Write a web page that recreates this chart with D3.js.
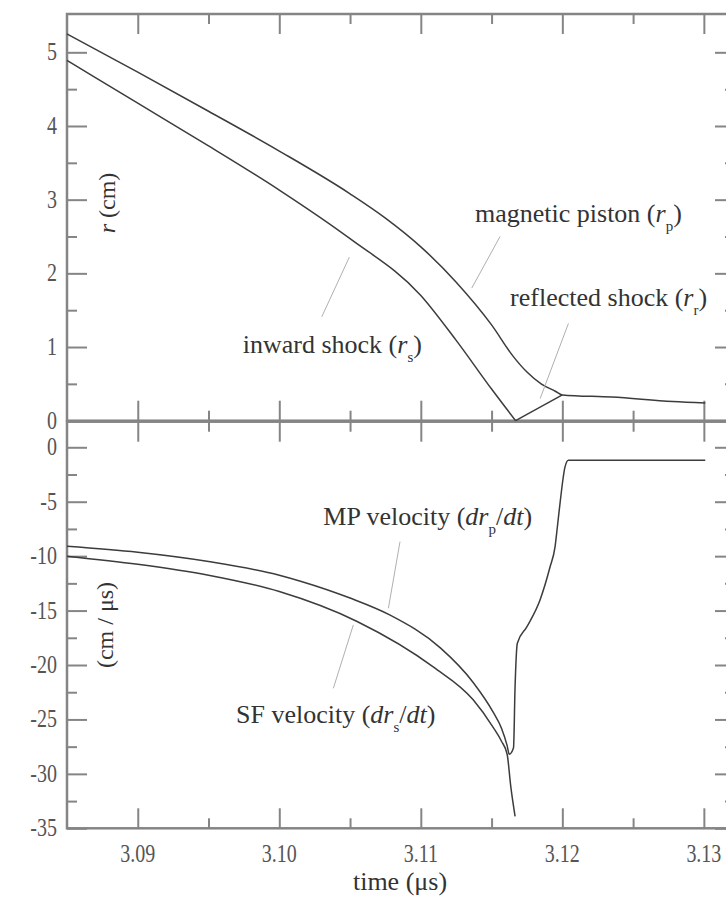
<!DOCTYPE html>
<html>
<head>
<meta charset="utf-8">
<script src="https://cdn.jsdelivr.net/npm/d3@7"></script>
<style>
  body { margin: 0; background: #fff; }
  svg { display: block; }
</style>
</head>
<body>
<svg id="chart" width="726" height="898"></svg>
<script>
// --- data ---
// top panel: radius (cm) vs time (us)
const pistonTime = [3.0850, 3.0900, 3.0950, 3.1000, 3.1050, 3.1075, 3.1100, 3.1125, 3.1150,
                    3.1165, 3.1175, 3.1185, 3.1195, 3.1200, 3.1235, 3.1278, 3.1301];
const pistonR    = [5.25, 4.73, 4.20, 3.66, 3.08, 2.75, 2.36, 1.88, 1.30,
                    0.88, 0.66, 0.50, 0.40, 0.35, 0.32, 0.26, 0.24];

const shockTime = [3.0850, 3.0900, 3.0950, 3.1000, 3.1050, 3.1100, 3.1125, 3.1150, 3.1167];
const shockR    = [4.89, 4.31, 3.73, 3.13, 2.47, 1.70, 1.09, 0.43, 0.0];

const reflTime = [3.1167, 3.1200];
const reflR    = [0.0, 0.35];

// bottom panel: velocity (cm/us) vs time (us)
const mpTime = [3.0850, 3.0900, 3.0950, 3.1000, 3.1015, 3.1050, 3.1078, 3.1114,
                3.1137, 3.1151, 3.1157, 3.1161, 3.11625, 3.11655, 3.11666, 3.11682, 3.11749,
                3.11843, 3.11913, 3.11949, 3.11965, 3.11984, 3.12019, 3.12043, 3.1301];
const mpV    = [-9.1, -9.65, -10.5, -11.75, -12.3, -13.85, -15.4, -18.45,
                -21.6, -24.3, -25.8, -27.4, -28.2, -27.6, -22.0, -18.0, -16.5,
                -14.0, -11.0, -9.1, -7.3, -5.1, -1.8, -1.2, -1.2];

const sfTime = [3.0850, 3.0900, 3.0950, 3.1000, 3.1055, 3.1109, 3.1137, 3.1151, 3.1157, 3.1161, 3.11636, 3.11666];
const sfV    = [-10.0, -10.75, -11.75, -13.25, -16.0, -20.2, -23.2, -25.7, -27.0, -28.2, -31.2, -33.9];

// ticks
const timeTicks = [3.09, 3.10, 3.11, 3.12, 3.13];
const timeLabels = ["3.09", "3.10", "3.11", "3.12", "3.13"];
const timeMinor = [3.095, 3.105, 3.115, 3.125];
const rTicks = [0, 1, 2, 3, 4, 5];
const rMinor = [0.5, 1.5, 2.5, 3.5, 4.5];
const vTicks = [0, -5, -10, -15, -20, -25, -30, -35];
const vMinor = [-2.5, -7.5, -12.5, -17.5, -22.5, -27.5, -32.5];

const serif = '"Liberation Serif", "Tinos", "Times New Roman", Times, "DejaVu Serif", serif';

const svg = d3.select('#chart').attr('font-family', serif);
svg.append('rect').attr('width', 726).attr('height', 898).attr('fill', '#fff');

const x = d3.scaleLinear().domain([3.085, 3.1322]).range([67, 735]);
const yTop = d3.scaleLinear().domain([0, 5.52]).range([420.7, 14]);
const yBot = d3.scaleLinear().domain([-35, 2.35]).range([828.3, 421.7]);

const axisColor = '#858585';

// draws inward ticks on the four sides of one panel
function panelTicks(y, major, minor) {
    const [y0, y1] = y.range();
    const [x0, x1] = x.range();
    const specs = [
        [d3.axisLeft(y), `translate(${x0},0)`, major, minor],
        [d3.axisRight(y), `translate(${x1},0)`, major, minor],
        [d3.axisBottom(x), `translate(0,${y0})`, timeTicks, timeMinor],
        [d3.axisTop(x), `translate(0,${y1})`, timeTicks, timeMinor]
    ];
    specs.forEach(([ax, tr, maj, mnr]) => {
        [[maj, -20], [mnr, -10]].forEach(([vals, size]) => {
            const g = svg.append('g')
                .attr('transform', tr)
                .call(ax.tickValues(vals).tickSize(size).tickFormat(''));
            g.select('.domain').remove();
            g.selectAll('line').attr('stroke', axisColor).attr('stroke-width', 2);
        });
    });
    svg.append('rect')
        .attr('x', x0).attr('y', y1)
        .attr('width', x1 - x0).attr('height', y0 - y1)
        .attr('fill', 'none')
        .attr('stroke', axisColor)
        .attr('stroke-width', 2.5);
}

panelTicks(yTop, rTicks, rMinor);
panelTicks(yBot, vTicks, vMinor);

// tick labels (scan is stretched vertically, so labels are too)
function stretchedText(px, py, str, anchor, size, sy) {
    return svg.append('text')
        .attr('transform', `translate(${px},${py}) scale(1,${sy})`)
        .attr('text-anchor', anchor)
        .attr('font-family', serif)
        .attr('fill', '#555')
        .style('font-size', size + 'px')
        .text(str);
}

rTicks.forEach(v => stretchedText(57, yTop(v) + 8, String(v), 'end', 20, 1.3));
vTicks.forEach(v => stretchedText(57, yBot(v) + 8, String(v), 'end', 20, 1.3));
timeTicks.forEach((t, i) => stretchedText(x(t), 862, timeLabels[i], 'middle', 20, 1.3));

// data lines
const lineTop = d3.line().x(d => x(d[0])).y(d => yTop(d[1])).curve(d3.curveMonotoneX);
const lineBot = d3.line().x(d => x(d[0])).y(d => yBot(d[1])).curve(d3.curveMonotoneX);
const zip = (a, b) => a.map((v, i) => [v, b[i]]);

const lineColor = '#3c3c3c';
[[lineTop, pistonTime, pistonR], [lineTop, shockTime, shockR], [lineTop, reflTime, reflR],
 [lineBot, mpTime, mpV], [lineBot, sfTime, sfV]].forEach(([gen, t, v]) => {
    svg.append('path')
        .attr('d', gen(zip(t, v)))
        .attr('fill', 'none')
        .attr('stroke', lineColor)
        .attr('stroke-width', 1.5);
});

// annotations: [scale, text start time, text value, leader from, leader to, parts]
const annotations = [
    [yTop, 3.11383, 2.70, [3.11560, 2.50], [3.11360, 1.80],
        [['magnetic piston ('], ['r', 'i'], ['p', 's'], [')']]],
    [yTop, 3.09742, 0.915, [3.10300, 1.41], [3.10495, 2.22],
        [['inward shock ('], ['r', 'i'], ['s', 's'], [')']]],
    [yTop, 3.11631, 1.55, [3.12043, 1.32], [3.11843, 0.30],
        [['reflected shock ('], ['r', 'i'], ['r', 's'], [')']]],
    [yBot, 3.10311, -7.14, [3.10853, -8.67], [3.10771, -14.79],
        [['MP velocity ('], ['dr', 'i'], ['p', 's'], ['/', ''], ['dt', 'i'], [')']]],
    [yBot, 3.09694, -25.35, [3.10382, -22.14], [3.10523, -16.32],
        [['SF velocity  ('], ['dr', 'i'], ['s', 's'], ['/', ''], ['dt', 'i'], [')']]]
];

annotations.forEach(([y, tt, tv, a, b, parts]) => {
    svg.append('line')
        .attr('x1', x(a[0])).attr('y1', y(a[1]))
        .attr('x2', x(b[0])).attr('y2', y(b[1]))
        .attr('stroke', '#b0b0b0')
        .attr('stroke-width', 1);

    const txt = svg.append('text')
        .attr('x', x(tt)).attr('y', y(tv))
        .attr('font-family', serif)
        .attr('fill', '#333')
        .style('font-size', '26px');
    let sub = false;
    parts.forEach(([s, kind]) => {
        const sp = txt.append('tspan').text(s);
        if (kind === 'i') sp.style('font-style', 'italic');
        if (kind === 's') {
            sp.attr('dy', 9).style('font-size', '15px');
            sub = true;
        } else if (sub) {
            sp.attr('dy', -9);
            sub = false;
        }
    });
});

// axis titles
svg.append('text')
    .attr('x', 400).attr('y', 890)
    .attr('text-anchor', 'middle')
    .attr('font-family', serif)
    .attr('fill', '#333')
    .style('font-size', '26px')
    .text('time (\u03bcs)');

const rTitle = svg.append('text')
    .attr('transform', 'translate(115,203) rotate(-90)')
    .attr('text-anchor', 'middle')
    .attr('font-family', serif)
    .attr('fill', '#333')
    .style('font-size', '24px');
rTitle.append('tspan').style('font-style', 'italic').text('r');
rTitle.append('tspan').text(' (cm)');

svg.append('text')
    .attr('transform', 'translate(113,625) rotate(-90)')
    .attr('text-anchor', 'middle')
    .attr('font-family', serif)
    .attr('fill', '#333')
    .style('font-size', '24px')
    .text('(cm / \u03bcs)');
</script>
</body>
</html>
